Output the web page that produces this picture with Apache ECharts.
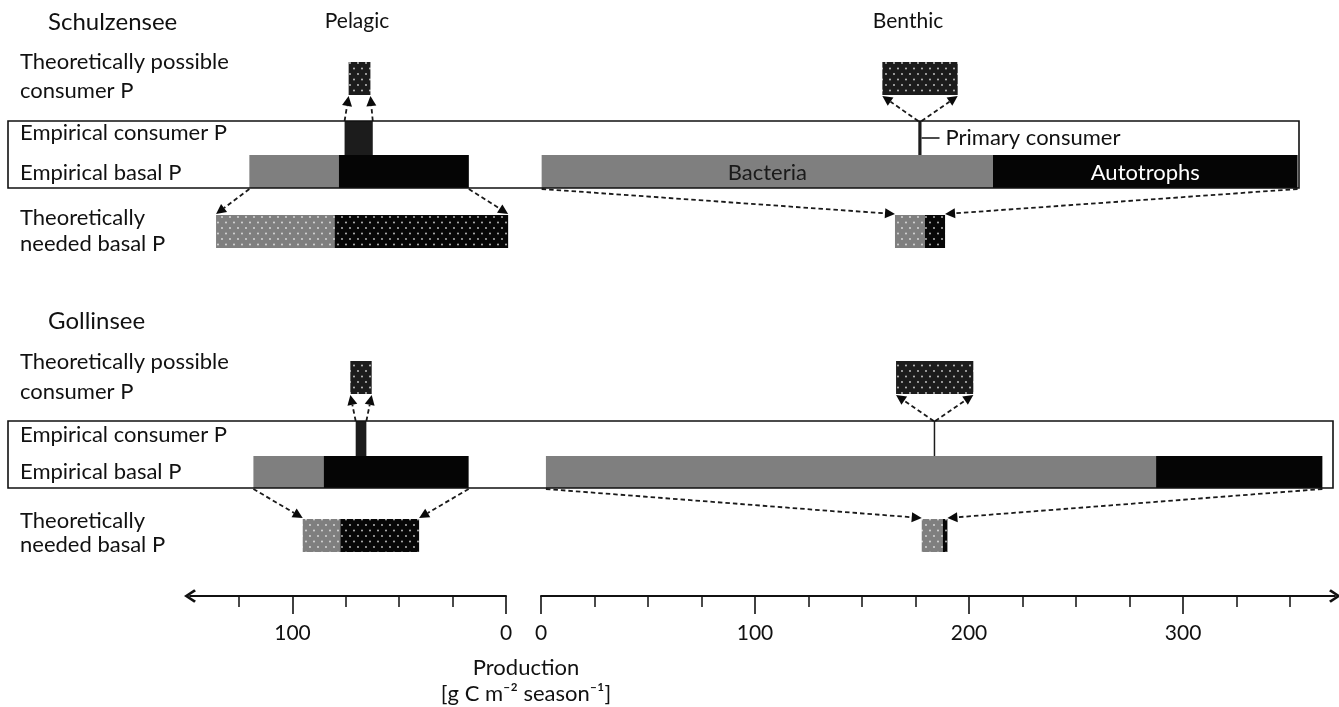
<!DOCTYPE html>
<html><head><meta charset="utf-8">
<script src="https://cdn.jsdelivr.net/npm/echarts@6/dist/echarts.min.js"></script>
<style>html,body{margin:0;padding:0;background:#fff}#c{width:1339px;height:707px}</style>
</head><body><div id="c"></div>
<script>
// ---------------- data (g C m-2 season-1), [from, to], per lake ----------------
const lakes = ['Schulzensee', 'Gollinsee'];
const panelTitles = ['Pelagic', 'Benthic'];
const rowLabels = [['Theoretically possible', 'consumer P'], ['Empirical consumer P'], ['Empirical basal P'], ['Theoretically', 'needed basal P']];
const axisTitle = ['Production', '[g C m\u207B\u00B2 season\u207B\u00B9]'];

const pelagicPossibleConsumer = [[63.5, 73.7], [62.9, 72.9]];
const pelagicConsumer        = [[62.4, 75.6], [65.4, 70.4]];
const pelagicBasalBacteria   = [[78.3, 120.2], [85.4, 118.3]];
const pelagicBasalAutotrophs = [[17.4, 78.3], [17.5, 85.4]];
const pelagicNeededBacteria  = [[80.3, 135.8], [77.6, 95.2]];
const pelagicNeededAutotrophs= [[-1.0, 80.3], [40.7, 77.6]];

const benthicPossibleConsumer = [[159.5, 194.7], [165.9, 202.0]];
const benthicConsumer        = [[176.3, 177.8], [183.5, 184.2]];
const benthicBasalBacteria   = [[0.3, 211.2], [2.3, 287.4]];
const benthicBasalAutotrophs = [[211.2, 353.5], [287.4, 365.1]];
const benthicNeededBacteria  = [[165.4, 179.4], [177.9, 187.7]];
const benthicNeededAutotrophs= [[179.4, 188.8], [187.7, 189.9]];

const benthicBasalLabels = [['Bacteria', 'Autotrophs'], ['', '']];
const consumerCallout = ['Primary consumer', ''];

const pelagicMax = 148, benthicMax = 371;
const pelagicMajorTicks = [0, 100];
const pelagicMinorTicks = [25, 50, 75, 125];
const benthicMajorTicks = [0, 100, 200, 300];
const benthicMinorTicks = [25, 50, 75, 125, 150, 175, 225, 250, 275, 325, 350];
const pelagicTickLabels = [0, 100];
const benthicTickLabels = [0, 100, 200, 300];

// ---------------- layout (pixels) ----------------
const FONT = 'Lato';
const INK = '#111111';
const AXIS_Y = 596;
const LAYOUT = [
  {title: 22, possible: [62, 95], consumer: [121, 155], basal: [155, 188], needed: [215, 248], frame: [8, 121, 1299, 188],
   labelY: [[62, 91], [133], [173], [218, 244]]},
  {title: 321, possible: [361, 394], consumer: [421, 456], basal: [456, 488], needed: [519, 552], frame: [8, 421, 1333, 488],
   labelY: [[362, 392], [435], [472], [521, 545]]}
];
const GRID_GEOM = [{left: 190, width: 316}, {left: 541, width: 794}];

function dotPattern(bg, dot) {
  const c = document.createElement('canvas');
  c.width = 8; c.height = 11;
  const g = c.getContext('2d');
  g.fillStyle = bg; g.fillRect(0, 0, 8, 11);
  g.fillStyle = dot;
  g.beginPath(); g.arc(2, 2.5, 0.9, 0, Math.PI * 2); g.fill();
  g.beginPath(); g.arc(6, 8, 0.9, 0, Math.PI * 2); g.fill();
  return {image: c, repeat: 'repeat'};
}
const FILLS = {
  gray: '#7f7f7f',
  black: '#050505',
  consumer: '#1c1c1c',
  possible: dotPattern('#1c1c1c', '#d0d0d0'),
  neededGray: dotPattern('#7f7f7f', '#e0e0e0'),
  neededBlack: dotPattern('#070707', '#c8c8c8')
};

function buildPanel(p) {
  const src = p === 0
    ? [pelagicPossibleConsumer, pelagicConsumer, pelagicBasalBacteria, pelagicBasalAutotrophs, pelagicNeededBacteria, pelagicNeededAutotrophs]
    : [benthicPossibleConsumer, benthicConsumer, benthicBasalBacteria, benthicBasalAutotrophs, benthicNeededBacteria, benthicNeededAutotrophs];
  const rects = [], rectInfo = [], arrows = [];
  lakes.forEach((lake, li) => {
    const L = LAYOUT[li];
    const [poss, cons, bb, ba, nb, na] = src.map(a => a[li]);
    const add = (r, rows, fill, info) => { rects.push([r[0], r[1], rows[0], rows[1]]); rectInfo.push(Object.assign({fill}, info || {})); };
    add(poss, L.possible, 'possible');
    add(cons, L.consumer, 'consumer', p === 1 ? {callout: consumerCallout[li], minW: li === 0 ? 3 : 1.5} : null);
    add(bb, L.basal, 'gray', p === 1 ? {label: benthicBasalLabels[li][0], labelColor: '#1a1a1a'} : null);
    add(ba, L.basal, 'black', p === 1 ? {label: benthicBasalLabels[li][1], labelColor: '#ffffff'} : null);
    add(nb, L.needed, 'neededGray');
    add(na, L.needed, 'neededBlack');
    arrows.push([cons[0], L.consumer[0], poss[0], L.possible[1] + 1]);
    arrows.push([cons[1], L.consumer[0], poss[1], L.possible[1] + 1]);
    const bLo = Math.min(bb[0], ba[0]), bHi = Math.max(bb[1], ba[1]);
    const nLo = Math.min(nb[0], na[0]), nHi = Math.max(nb[1], na[1]);
    arrows.push([bLo, L.basal[1] + 1, nLo, L.needed[0] - 1]);
    arrows.push([bHi, L.basal[1] + 1, nHi, L.needed[0] - 1]);
  });
  return {rects, rectInfo, arrows};
}
const panels = [buildPanel(0), buildPanel(1)];

function rectRenderer(info) {
  return function (params, api) {
    const it = info[params.dataIndex];
    const a = api.coord([api.value(0), api.value(2)]);
    const b = api.coord([api.value(1), api.value(3)]);
    let x = Math.min(a[0], b[0]);
    let w = Math.abs(b[0] - a[0]);
    if (it.minW && w < it.minW) { x = (a[0] + b[0]) / 2 - it.minW / 2; w = it.minW; }
    const y = Math.min(a[1], b[1]), h = Math.abs(b[1] - a[1]);
    const children = [{type: 'rect', shape: {x, y, width: w, height: h}, style: {fill: FILLS[it.fill]}}];
    if (it.label) {
      children.push({type: 'text', x: x + w / 2, y: y + h / 2 + 1,
        style: {text: it.label, fill: it.labelColor, fontSize: 22, fontFamily: FONT, align: 'center', verticalAlign: 'middle'}});
    }
    if (it.callout) {
      const cy = y + h / 2;
      children.push({type: 'line', shape: {x1: x + w, y1: cy, x2: x + w + 18, y2: cy}, style: {stroke: INK, lineWidth: 1.5}});
      children.push({type: 'text', x: x + w + 24, y: cy,
        style: {text: it.callout, fill: INK, fontSize: 22, fontFamily: FONT, align: 'left', verticalAlign: 'middle'}});
    }
    return {type: 'group', children};
  };
}
function arrowRenderer(params, api) {
  const a = api.coord([api.value(0), api.value(1)]);
  const b = api.coord([api.value(2), api.value(3)]);
  const dx = b[0] - a[0], dy = b[1] - a[1];
  const len = Math.sqrt(dx * dx + dy * dy);
  const ux = dx / len, uy = dy / len;
  const hl = 10, hw = 5;
  const bx = b[0] - ux * hl, by = b[1] - uy * hl;
  return {type: 'group', children: [
    {type: 'line', shape: {x1: a[0], y1: a[1], x2: bx, y2: by}, style: {stroke: '#1a1a1a', lineWidth: 1.8, lineDash: [4.5, 3]}},
    {type: 'polygon', shape: {points: [[b[0], b[1]], [bx - uy * hw, by + ux * hw], [bx + uy * hw, by - ux * hw]]}, style: {fill: '#0a0a0a'}}
  ]};
}

const chevron = 'path://M6,0 L12,9 L10.2,10.6 L6,4 L1.8,10.6 L0,9 Z';
function mainXAxis(gridIndex, inverse, max, minorTicks, labels, arrowEnds) {
  return {type: 'value', gridIndex, inverse, min: 0, max, position: 'bottom',
    axisLine: {show: true, onZero: false, lineStyle: {color: INK, width: 2}, symbol: arrowEnds, symbolSize: [14, 12]},
    axisTick: {show: true, inside: false, length: 11, lineStyle: {color: INK, width: 1.5}, customValues: minorTicks},
    axisLabel: {show: true, margin: 27, fontSize: 21, fontFamily: FONT, color: INK, customValues: labels},
    splitLine: {show: false}};
}
function majorXAxis(gridIndex, inverse, max, majorTicks) {
  return {type: 'value', gridIndex, inverse, min: 0, max, position: 'bottom',
    axisLine: {show: false, onZero: false},
    axisTick: {show: true, inside: false, length: 18, lineStyle: {color: INK, width: 1.6}, customValues: majorTicks},
    axisLabel: {show: false}, splitLine: {show: false}};
}

const graphics = [];
lakes.forEach((lake, li) => {
  const L = LAYOUT[li];
  graphics.push({type: 'text', x: 48, y: L.title, z: 10, style: {text: lake, fontSize: 24, fontFamily: FONT, fill: INK, verticalAlign: 'middle'}});
  rowLabels.forEach((lines, ri) => lines.forEach((t, k) => {
    graphics.push({type: 'text', x: 20, y: L.labelY[ri][k], z: 10, style: {text: t, fontSize: 22, fontFamily: FONT, fill: INK, verticalAlign: 'middle'}});
  }));
  const f = L.frame;
  graphics.push({type: 'rect', z: 5, shape: {x: f[0], y: f[1], width: f[2] - f[0], height: f[3] - f[1]}, style: {fill: 'none', stroke: INK, lineWidth: 1.6}});
});
graphics.push({type: 'text', x: 357, y: 21, style: {text: panelTitles[0], fontSize: 21, fontFamily: FONT, fill: INK, align: 'center', verticalAlign: 'middle'}});
graphics.push({type: 'text', x: 908, y: 21, style: {text: panelTitles[1], fontSize: 21, fontFamily: FONT, fill: INK, align: 'center', verticalAlign: 'middle'}});
graphics.push({type: 'text', x: 526, y: 668, style: {text: axisTitle[0], fontSize: 22, fontFamily: FONT, fill: INK, align: 'center', verticalAlign: 'middle'}});
graphics.push({type: 'text', x: 526, y: 694, style: {text: axisTitle[1], fontSize: 22, fontFamily: FONT, fill: INK, align: 'center', verticalAlign: 'middle'}});

const grids = [0, 1, 0, 1].map(g => ({left: GRID_GEOM[g].left, width: GRID_GEOM[g].width, top: 0, height: AXIS_Y}));

const chart = echarts.init(document.getElementById('c'), null, {renderer: 'canvas'});
chart.setOption({
  animation: false,
  backgroundColor: '#ffffff',
  grid: grids,
  xAxis: [
    mainXAxis(0, true, pelagicMax, pelagicMinorTicks, pelagicTickLabels, [chevron, 'none']),
    mainXAxis(1, false, benthicMax, benthicMinorTicks, benthicTickLabels, ['none', chevron]),
    majorXAxis(2, true, pelagicMax, pelagicMajorTicks),
    majorXAxis(3, false, benthicMax, benthicMajorTicks)
  ],
  yAxis: [0, 1, 2, 3].map(g => ({type: 'value', gridIndex: g, min: 0, max: AXIS_Y, inverse: true, show: false})),
  series: [0, 1].map(p => ({
    type: 'custom', name: panelTitles[p] + ' bars', xAxisIndex: p, yAxisIndex: p, clip: false, silent: true,
    encode: {x: [0, 1], y: [2, 3]},
    renderItem: rectRenderer(panels[p].rectInfo), data: panels[p].rects, z: 2
  })).concat([0, 1].map(p => ({
    type: 'custom', name: panelTitles[p] + ' arrows', xAxisIndex: p, yAxisIndex: p, clip: false, silent: true,
    encode: {x: [0, 2], y: [1, 3]},
    renderItem: arrowRenderer, data: panels[p].arrows, z: 3
  }))),
  graphic: graphics
});
</script></body></html>
